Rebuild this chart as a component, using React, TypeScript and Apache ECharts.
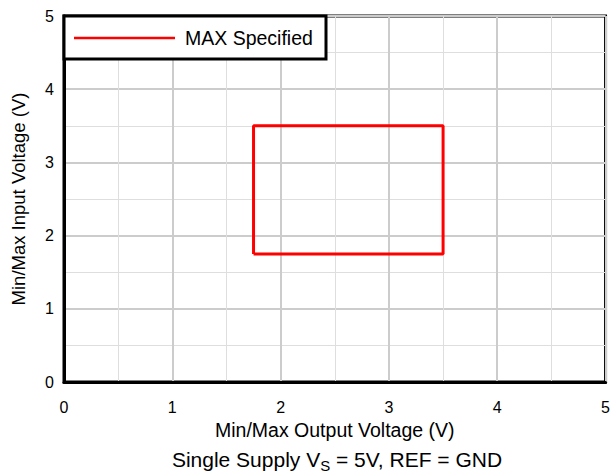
import React, { useEffect, useRef } from "react";
import * as echarts from "echarts";

const seriesName = "MAX Specified";
const boxX = [1.75, 3.5, 3.5, 1.75, 1.75];
const boxY = [1.75, 1.75, 3.5, 3.5, 1.75];
const xTicks = [0, 1, 2, 3, 4, 5];
const yTicks = [0, 1, 2, 3, 4, 5];
const xName = "Min/Max Output Voltage (V)";
const yName = "Min/Max Input Voltage (V)";

export default function App() {
  const ref = useRef<HTMLDivElement>(null);
  useEffect(() => {
    if (!ref.current) return;
    const chart = echarts.init(ref.current, undefined, { renderer: "svg" });
    const font = "'Liberation Sans', Arial, sans-serif";
    const axisCommon = {
      type: "value",
      interval: 1,
      axisLine: { show: true, onZero: false, lineStyle: { color: "#000", width: 3 } },
      axisTick: { show: false },
      minorTick: { show: false, splitNumber: 2 },
      splitLine: { show: true, lineStyle: { color: "#cccccc", width: 2 } },
      minorSplitLine: { show: true, lineStyle: { color: "#dedede", width: 1 } },
      axisLabel: { color: "#000", fontSize: 16, fontFamily: font },
    };
    chart.setOption({
      animation: false,
      backgroundColor: "#fff",
      grid: {
        left: 64,
        top: 16,
        right: 3,
        bottom: 92,
        show: true,
        borderColor: "#000",
        borderWidth: 3,
        backgroundColor: "transparent",
      },
      xAxis: {
        ...axisCommon,
        min: xTicks[0],
        max: xTicks[xTicks.length - 1],
        name: xName,
        nameLocation: "middle",
        nameGap: 30,
        nameTextStyle: { color: "#000", fontSize: 19.5, fontFamily: font },
        axisLabel: { ...axisCommon.axisLabel, margin: 17 },
      },
      yAxis: {
        ...axisCommon,
        min: yTicks[0],
        max: yTicks[yTicks.length - 1],
        name: yName,
        nameLocation: "middle",
        nameGap: 36,
        nameTextStyle: { color: "#000", fontSize: 18.5, fontFamily: font },
        axisLabel: { ...axisCommon.axisLabel, margin: 10 },
      },
      series: [
        {
          name: seriesName,
          type: "line",
          data: boxX.map((x, i) => [x, boxY[i]]),
          symbol: "none",
          lineStyle: { color: "#ff0000", width: 3 },
          z: 5,
        },
      ],
      graphic: [
        {
          type: "rect",
          shape: { x: 64, y: 16, width: 262, height: 43 },
          style: { fill: "#fff", stroke: "#000", lineWidth: 3 },
          z: 100,
        },
        {
          type: "line",
          shape: { x1: 74, y1: 38, x2: 175, y2: 38 },
          style: { stroke: "#ff0000", lineWidth: 2.5 },
          z: 101,
        },
        {
          type: "text",
          x: 185,
          y: 38,
          style: {
            text: seriesName,
            fontSize: 19.5,
            fontFamily: font,
            fill: "#000",
            verticalAlign: "middle",
            align: "left",
          },
          z: 101,
        },
        {
          type: "text",
          x: 337,
          y: 459,
          style: {
            text: "Single Supply V{sub|S} = 5V, REF = GND",
            fontSize: 21,
            fontFamily: font,
            fill: "#000",
            align: "center",
            verticalAlign: "middle",
            rich: {
              sub: { fontSize: 15, fontFamily: font, fill: "#000", padding: [12, 0, 0, 0] },
            },
          },
          z: 101,
        },
      ],
    });
    return () => chart.dispose();
  }, []);
  return (
    <div
      ref={ref}
      style={{ position: "fixed", left: 0, top: 0, width: 613, height: 474 }}
    />
  );
}
